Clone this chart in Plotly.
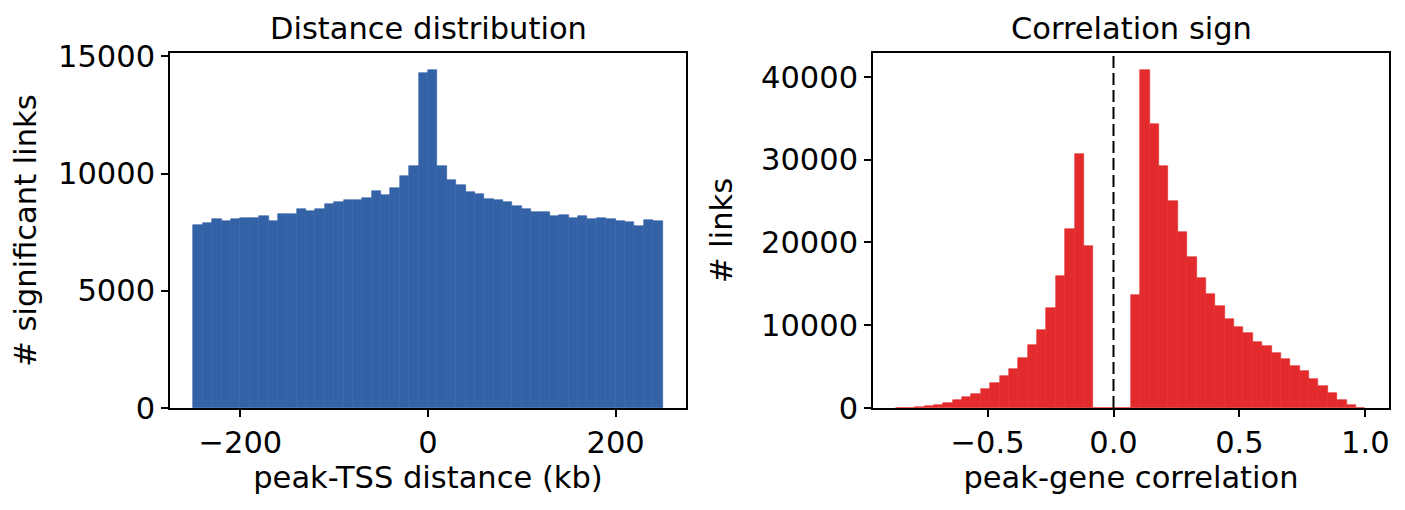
import numpy as np
import plotly.graph_objects as go

# left panel: peak-TSS distance histogram, 10 kb bins from -250 to 250 kb
dist_edges = list(range(-250, 251, 10))
dist_counts = [
    7820, 7900, 8070, 7990, 8070, 8120, 8120, 8200, 7990, 8290,
    8290, 8500, 8420, 8500, 8710, 8800, 8880, 8880, 8970, 9270,
    9100, 9390, 9900, 10330, 14290, 14420, 10330, 9730, 9520, 9220,
    9140, 8930, 8880, 8800, 8630, 8500, 8370, 8370, 8200, 8250,
    8120, 8200, 8070, 8120, 8070, 7990, 7950, 7780, 8030, 7990,
]

# right panel: peak-gene correlation histogram, 50 bins between min and max
corr_min, corr_max = -0.862, 1.0
corr_counts = [
    30, 60, 110, 200, 320, 560, 925, 1290, 1650, 2250,
    2975, 3820, 4660, 5990, 7560, 9370, 12020, 16000, 21670, 30710,
    19620, 0, 0, 0, 0, 13590, 40840, 34330, 29270, 25040,
    21310, 18290, 15760, 13830, 12380, 10810, 9730, 9000, 7920, 7440,
    6590, 5870, 5030, 4420, 3460, 2610, 1770, 925, 320, 20,
]

BLUE = "#3362a6"
RED = "#e32a2c"
FONT = "DejaVu Sans"
FS = 30.5

dist_edges = np.array(dist_edges, dtype=float)
dist_centers = (dist_edges[:-1] + dist_edges[1:]) / 2
dist_w = np.diff(dist_edges)

corr_edges = np.linspace(corr_min, corr_max, len(corr_counts) + 1)
corr_centers = (corr_edges[:-1] + corr_edges[1:]) / 2
corr_w = np.diff(corr_edges)

fig = go.Figure()
fig.add_trace(go.Bar(x=dist_centers, y=dist_counts, width=dist_w,
                     marker=dict(color=BLUE, line=dict(width=0.6, color=BLUE)),
                     xaxis="x", yaxis="y", showlegend=False))
fig.add_trace(go.Bar(x=corr_centers, y=corr_counts, width=corr_w,
                     marker=dict(color=RED, line=dict(width=0.6, color=RED)),
                     xaxis="x2", yaxis="y2", showlegend=False))

# zero-correlation marker
fig.add_shape(type="line", xref="x2", yref="y2 domain", x0=0, x1=0, y0=0, y1=1,
              line=dict(color="black", width=2, dash="12px,5px"))

W, H = 1405, 510
top, bottom = 53, 408
ydom = [1 - bottom / H, 1 - top / H]

axis_style = dict(showline=True, mirror=True, linecolor="black", linewidth=1.7,
                  ticks="outside", ticklen=7, tickwidth=1.7, tickcolor="black",
                  showgrid=False, zeroline=False, automargin=False,
                  tickfont=dict(family=FONT, size=FS, color="black"))
title_font = dict(family=FONT, size=FS, color="black")

fig.update_layout(
    template="none",
    width=W, height=H,
    margin=dict(l=0, r=0, t=0, b=0),
    paper_bgcolor="white", plot_bgcolor="white",
    font=dict(family=FONT, size=FS, color="black"),
    bargap=0,
    xaxis=dict(domain=[170 / W, 686 / W], range=[-275, 275], dtick=200, anchor="y",
               title=dict(text="peak-TSS distance (kb)", standoff=6, font=title_font),
               **axis_style),
    yaxis=dict(domain=ydom, range=[0, 15140], dtick=5000, tickformat="d", anchor="x",
               title=dict(text="# significant links", standoff=12, font=title_font),
               **axis_style),
    xaxis2=dict(domain=[873 / W, 1389 / W], range=[-0.955, 1.094], dtick=0.5,
                tickformat=".1f", anchor="y2",
                title=dict(text="peak-gene correlation", standoff=6, font=title_font),
                **axis_style),
    yaxis2=dict(domain=ydom, range=[0, 42880], dtick=10000, tickformat="d", anchor="x2",
                title=dict(text="# links", standoff=19, font=title_font),
                **axis_style),
    annotations=[
        dict(text="Distance distribution", x=(170 + 686) / 2 / W, y=1 - 48 / H,
             xref="paper", yref="paper", xanchor="center", yanchor="bottom",
             showarrow=False, font=title_font),
        dict(text="Correlation sign", x=(873 + 1389) / 2 / W, y=1 - 48 / H,
             xref="paper", yref="paper", xanchor="center", yanchor="bottom",
             showarrow=False, font=title_font),
    ],
)

fig.write_html("out.html", config={"displayModeBar": False},
               post_script="document.body.style.margin = '0';")
